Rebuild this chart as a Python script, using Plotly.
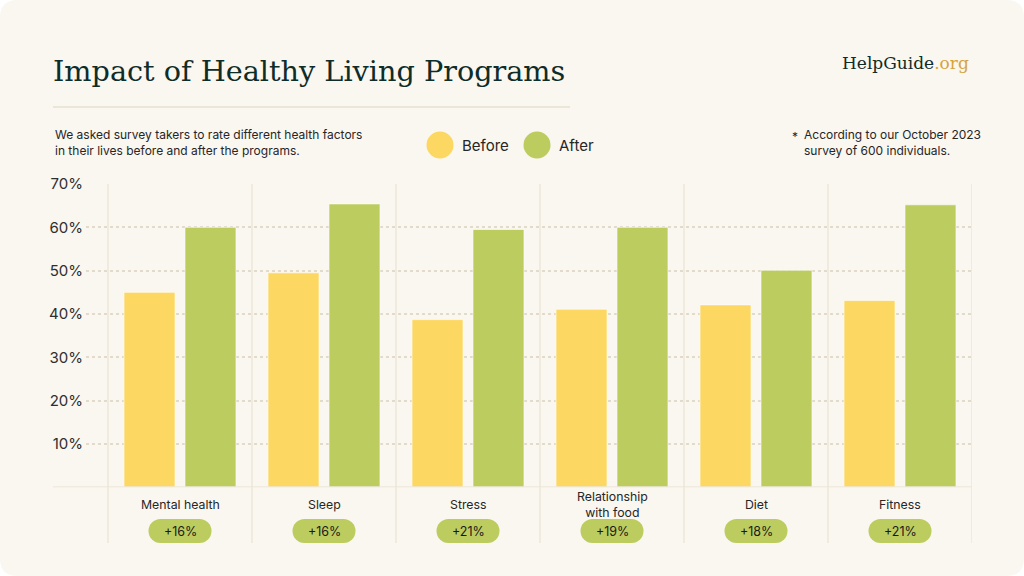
import plotly.graph_objects as go

categories = ["Mental health", "Sleep", "Stress", "Relationship<br>with food", "Diet", "Fitness"]
before = [45.0, 49.5, 38.7, 41.1, 42.1, 43.1]
after = [60.0, 65.4, 59.5, 60.0, 50.1, 65.2]
changes = ["+16%", "+16%", "+21%", "+19%", "+18%", "+21%"]
y_ticks = [10, 20, 30, 40, 50, 60, 70]
y_labels = ["10%", "20%", "30%", "40%", "50%", "60%", "70%"]

W, H = 1024, 576
BG = "#FAF6F0"
YELLOW = "#FCD862"
GREEN = "#BCCC5E"
LINE = "#ECE6DA"
DARK = "#0E2C28"
TXT = "#262626"

def px_x(p):
    return p / W

def px_y(p):
    return (H - p) / H

xs = list(range(len(categories)))

fig = go.Figure()
fig.add_trace(go.Bar(x=xs, y=before, name="Before", marker=dict(color=YELLOW, line=dict(color="rgba(255,255,255,0.6)", width=1)), showlegend=False, hoverinfo="skip"))
fig.add_trace(go.Bar(x=xs, y=after, name="After", marker=dict(color=GREEN, line=dict(color="rgba(255,255,255,0.6)", width=1)), showlegend=False, hoverinfo="skip"))

unit_px = 144.0
shapes = []
rx, ry = 18 / W, 18 / H
path = (f"M {rx},0 L {1-rx},0 Q 1,0 1,{ry} L 1,{1-ry} Q 1,1 {1-rx},1 "
        f"L {rx},1 Q 0,1 0,{1-ry} L 0,{ry} Q 0,0 {rx},0 Z")
shapes.append(dict(type="path", xref="paper", yref="paper", path=path, fillcolor=BG, line=dict(width=0), layer="below"))
shapes.append(dict(type="line", xref="paper", yref="paper", x0=px_x(53), x1=px_x(570), y0=px_y(107), y1=px_y(107), line=dict(color=LINE, width=2), layer="below"))
for i in range(len(categories) + 1):
    shapes.append(dict(type="line", xref="x", yref="paper", x0=i - 0.5, x1=i - 0.5, y0=px_y(543), y1=px_y(184), line=dict(color=LINE, width=1.5), layer="below"))
shapes.append(dict(type="line", xref="paper", yref="y", x0=px_x(53), x1=px_x(972), y0=0, y1=0, line=dict(color=LINE, width=2), layer="above"))
for cx, col in [(440, YELLOW), (537, GREEN)]:
    shapes.append(dict(type="circle", xref="paper", yref="paper", x0=px_x(cx - 13.5), x1=px_x(cx + 13.5), y0=px_y(145 + 13.5), y1=px_y(145 - 13.5), fillcolor=col, line=dict(width=0)))
bh = 12
half_rect = 19.5 / unit_px
r_units = bh / unit_px
for i in xs:
    yc = 531
    shapes.append(dict(type="rect", xref="x", yref="paper", x0=i - half_rect, x1=i + half_rect, y0=px_y(yc + bh), y1=px_y(yc - bh), fillcolor=GREEN, line=dict(width=0)))
    for cxu in (i - half_rect, i + half_rect):
        shapes.append(dict(type="circle", xref="x", yref="paper", x0=cxu - r_units, x1=cxu + r_units, y0=px_y(yc + bh), y1=px_y(yc - bh), fillcolor=GREEN, line=dict(width=0)))

annotations = []
annotations.append(dict(text="Impact of Healthy Living Programs", xref="paper", yref="paper", x=px_x(51), y=px_y(71), xanchor="left", yanchor="middle", showarrow=False, font=dict(family="DejaVu Serif", size=28.7, color=DARK)))
annotations.append(dict(text=f"HelpGuide<span style='color:#D6A43A'>.org</span>", xref="paper", yref="paper", x=px_x(971), y=px_y(63), xanchor="right", yanchor="middle", showarrow=False, font=dict(family="DejaVu Serif", size=17, color=DARK)))
annotations.append(dict(text="We asked survey takers to rate different health factors<br>in their lives before and after the programs.", xref="paper", yref="paper", x=px_x(53), y=px_y(142), xanchor="left", yanchor="middle", align="left", showarrow=False, font=dict(family="Inter", size=12, color=TXT)))
annotations.append(dict(text="Before", xref="paper", yref="paper", x=px_x(460), y=px_y(145), xanchor="left", yanchor="middle", showarrow=False, font=dict(family="Inter", size=15, color=TXT)))
annotations.append(dict(text="After", xref="paper", yref="paper", x=px_x(557), y=px_y(145), xanchor="left", yanchor="middle", showarrow=False, font=dict(family="Inter", size=15, color=TXT)))
annotations.append(dict(text="*", xref="paper", yref="paper", x=px_x(790), y=px_y(136), xanchor="left", yanchor="middle", showarrow=False, font=dict(family="Inter", size=12, color=TXT)))
annotations.append(dict(text="According to our October 2023<br>survey of 600 individuals.", xref="paper", yref="paper", x=px_x(802), y=px_y(143), xanchor="left", yanchor="middle", align="left", showarrow=False, font=dict(family="Inter", size=12, color=TXT)))
for i, (cat, ch) in enumerate(zip(categories, changes)):
    annotations.append(dict(text=cat, xref="x", yref="paper", x=i, y=px_y(504), xanchor="center", yanchor="middle", showarrow=False, font=dict(family="Inter", size=12.3, color=TXT)))
    annotations.append(dict(text=ch, xref="x", yref="paper", x=i, y=px_y(531), xanchor="center", yanchor="middle", showarrow=False, font=dict(family="Inter", size=12.5, color="#1A1A1A")))

fig.update_layout(
    width=W, height=H, autosize=False,
    margin=dict(l=0, r=0, t=0, b=0, pad=0, autoexpand=False),
    paper_bgcolor="#FFFFFF",
    plot_bgcolor="rgba(0,0,0,0)",
    barmode="group",
    bargap=0.153,
    bargroupgap=0.164,
    shapes=shapes,
    annotations=annotations,
    xaxis=dict(domain=[px_x(86), px_x(972)], range=[-0.5 - 22 / unit_px, 5.5], showticklabels=False, showgrid=False, zeroline=False, showline=False, fixedrange=True, automargin=False),
    yaxis=dict(domain=[px_y(487.3), px_y(184)], range=[0, 70], tickvals=y_ticks, ticktext=y_labels, showgrid=True, gridcolor="#E2DACB", griddash="dot", gridwidth=1.5, zeroline=False, showline=False, ticks="", tickfont=dict(family="Inter", size=15, color="#2E2E2E"), ticklabelstandoff=2, fixedrange=True, automargin=False),
    showlegend=False,
)

fig.write_html(
    "out.html",
    config={"displayModeBar": False},
    post_script="document.body.style.margin='0';document.body.style.padding='0';document.body.style.overflow='hidden';",
)
